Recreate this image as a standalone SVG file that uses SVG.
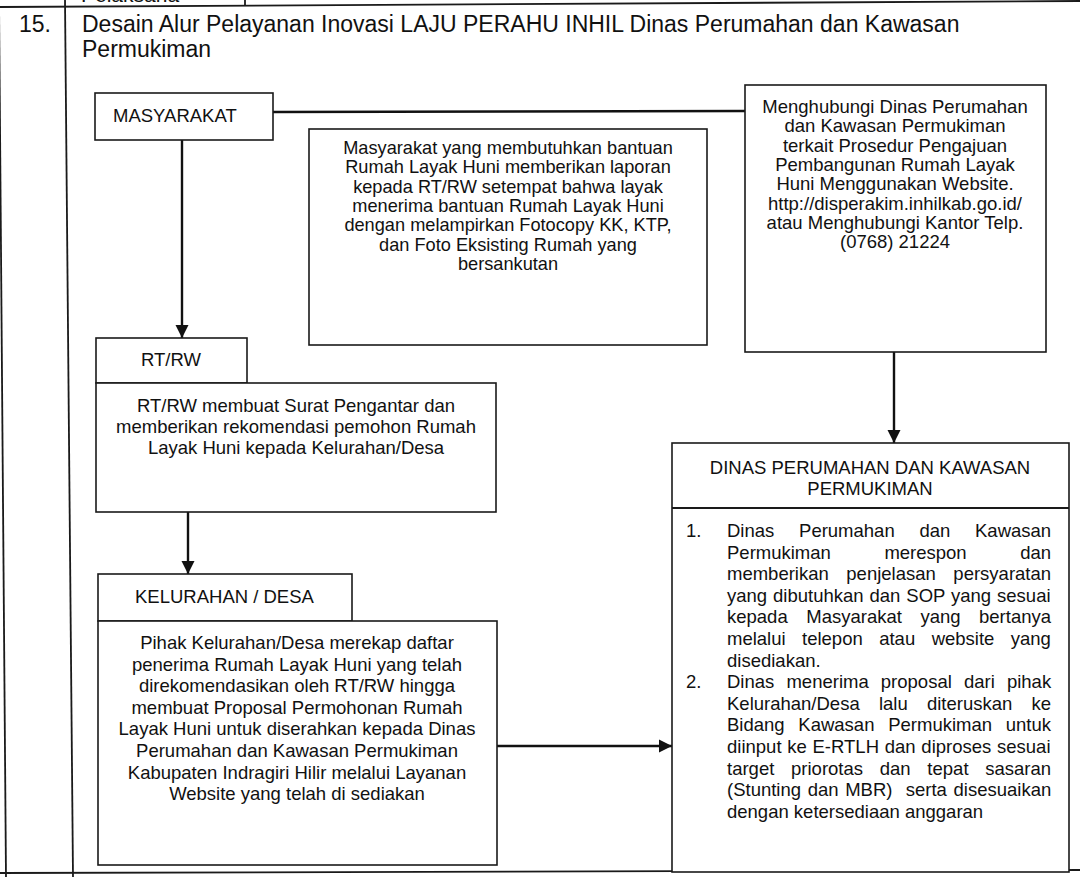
<svg xmlns="http://www.w3.org/2000/svg" width="1080" height="877" viewBox="0 0 1080 877">
<style>
.box{fill:#fff;stroke:#1a1a1a;stroke-width:1.6}
.tl{stroke:#1a1a1a;stroke-width:1.8;fill:none}
.t{font-family:"Liberation Sans",Arial,sans-serif;font-size:18.5px;fill:#111}
.m{font-size:18.2px}
.h{font-size:23px}
.c{text-anchor:middle}
.conn{stroke:#111;stroke-width:2.4;fill:none}
</style>
<defs>
<marker id="ah" markerUnits="userSpaceOnUse" markerWidth="14" markerHeight="14" refX="13" refY="7" orient="auto">
<path d="M0,0.5 L13,7 L0,13.5 z" fill="#111"/>
</marker>
</defs>
<rect x="0" y="0" width="1080" height="877" fill="#fff"/>
<g id="table">
<line class="tl" x1="0" y1="7" x2="1080" y2="1"/>
<line class="tl" x1="-1" y1="0" x2="6" y2="877"/>
<line class="tl" x1="65" y1="0" x2="73" y2="877"/>
<line class="tl" x1="245" y1="0" x2="245" y2="6"/>
<line class="tl" x1="0" y1="873" x2="1080" y2="870"/>
<text class="t h" x="81" y="2" style="font-size:21px">Pelaksana</text>
<text class="t h" x="19" y="32">15.</text>
<text class="t h" x="82" y="32">Desain Alur Pelayanan Inovasi LAJU PERAHU INHIL Dinas Perumahan dan Kawasan</text>
<text class="t h" x="82" y="57">Permukiman</text>
</g>
<g id="connectors">
<line class="conn" x1="273" y1="112" x2="745" y2="111"/>
<line class="conn" x1="182" y1="140" x2="182" y2="338" marker-end="url(#ah)"/>
<line class="conn" x1="188" y1="512" x2="188" y2="574" marker-end="url(#ah)"/>
<line class="conn" x1="894" y1="352" x2="894" y2="443" marker-end="url(#ah)"/>
<line class="conn" x1="497" y1="746" x2="672" y2="746" marker-end="url(#ah)"/>
</g>
<g id="masyarakat">
<rect class="box" x="95" y="93" width="178" height="47"/>
<text class="t" x="113" y="122">MASYARAKAT</text>
</g>
<g id="laporan">
<rect class="box" x="309" y="129" width="398" height="216"/>
<text class="t m c" x="508" y="154">Masyarakat yang membutuhkan bantuan</text>
<text class="t m c" x="508" y="173.3">Rumah Layak Huni memberikan laporan</text>
<text class="t m c" x="508" y="192.6">kepada RT/RW setempat bahwa layak</text>
<text class="t m c" x="508" y="211.9">menerima bantuan Rumah Layak Huni</text>
<text class="t m c" x="508" y="231.2">dengan melampirkan Fotocopy KK, KTP,</text>
<text class="t m c" x="508" y="250.5">dan Foto Eksisting Rumah yang</text>
<text class="t m c" x="508" y="269.8">bersankutan</text>
</g>
<g id="menghubungi">
<rect class="box" x="745" y="85" width="301" height="267"/>
<text class="t c" x="895" y="113">Menghubungi Dinas Perumahan</text>
<text class="t c" x="895" y="132.3">dan Kawasan Permukiman</text>
<text class="t c" x="895" y="151.6">terkait Prosedur Pengajuan</text>
<text class="t c" x="895" y="170.9">Pembangunan Rumah Layak</text>
<text class="t c" x="895" y="190.2">Huni Menggunakan Website.</text>
<text class="t c" x="895" y="209.5">http://disperakim.inhilkab.go.id/</text>
<text class="t c" x="895" y="228.8">atau Menghubungi Kantor Telp.</text>
<text class="t c" x="895" y="248.1">(0768) 21224</text>
</g>
<g id="rtrw">
<rect class="box" x="96" y="338" width="151" height="45"/>
<text class="t c" x="171" y="366">RT/RW</text>
</g>
<g id="rtrw-desc">
<rect class="box" x="96" y="383" width="400" height="129"/>
<text class="t c" x="296" y="411.5">RT/RW membuat Surat Pengantar dan</text>
<text class="t c" x="296" y="432.5">memberikan rekomendasi pemohon Rumah</text>
<text class="t c" x="296" y="453.5">Layak Huni kepada Kelurahan/Desa</text>
</g>
<g id="kelurahan">
<rect class="box" x="98" y="574" width="254" height="47"/>
<text class="t" x="135" y="603">KELURAHAN / DESA</text>
</g>
<g id="kelurahan-desc">
<rect class="box" x="98" y="621" width="399" height="244"/>
<text class="t c" x="297" y="649">Pihak Kelurahan/Desa merekap daftar</text>
<text class="t c" x="297" y="670.6">penerima Rumah Layak Huni yang telah</text>
<text class="t c" x="297" y="692.2">direkomendasikan oleh RT/RW hingga</text>
<text class="t c" x="297" y="713.8">membuat Proposal Permohonan Rumah</text>
<text class="t c" x="297" y="735.4">Layak Huni untuk diserahkan kepada Dinas</text>
<text class="t c" x="297" y="757">Perumahan dan Kawasan Permukiman</text>
<text class="t c" x="297" y="778.6">Kabupaten Indragiri Hilir melalui Layanan</text>
<text class="t c" x="297" y="800.2">Website yang telah di sediakan</text>
</g>
<g id="dinas">
<rect class="box" x="672" y="443" width="397" height="429"/>
<line class="tl" x1="672" y1="508" x2="1069" y2="508"/>
<text class="t c" x="870" y="474">DINAS PERUMAHAN DAN KAWASAN</text>
<text class="t c" x="870" y="495">PERMUKIMAN</text>
<text class="t" x="686" y="537">1.</text>
<text class="t" x="727" y="537" style="word-spacing:19.6px">Dinas Perumahan dan Kawasan</text>
<text class="t" x="727" y="558.6" style="word-spacing:48.4px">Permukiman merespon dan</text>
<text class="t" x="727" y="580.2" style="word-spacing:12.4px">memberikan penjelasan persyaratan</text>
<text class="t" x="727" y="601.8" style="word-spacing:0.8px">yang dibutuhkan dan SOP yang sesuai</text>
<text class="t" x="727" y="623.4" style="word-spacing:13.4px">kepada Masyarakat yang bertanya</text>
<text class="t" x="727" y="645" style="word-spacing:11.3px">melalui telepon atau website yang</text>
<text class="t" x="727" y="666.6">disediakan.</text>
<text class="t" x="686" y="688.2">2.</text>
<text class="t" x="727" y="688.2" style="word-spacing:7px">Dinas menerima proposal dari pihak</text>
<text class="t" x="727" y="709.8" style="word-spacing:14.1px">Kelurahan/Desa lalu diteruskan ke</text>
<text class="t" x="727" y="731.4" style="word-spacing:8.6px">Bidang Kawasan Permukiman untuk</text>
<text class="t" x="727" y="753" style="word-spacing:0.6px">diinput ke E-RTLH dan diproses sesuai</text>
<text class="t" x="727" y="774.6" style="word-spacing:11.6px">target priorotas dan tepat sasaran</text>
<text class="t" x="727" y="796.2" xml:space="preserve" style="word-spacing:1.5px">(Stunting dan MBR)  serta disesuaikan</text>
<text class="t" x="727" y="817.8">dengan ketersediaan anggaran</text>
</g>
</svg>
